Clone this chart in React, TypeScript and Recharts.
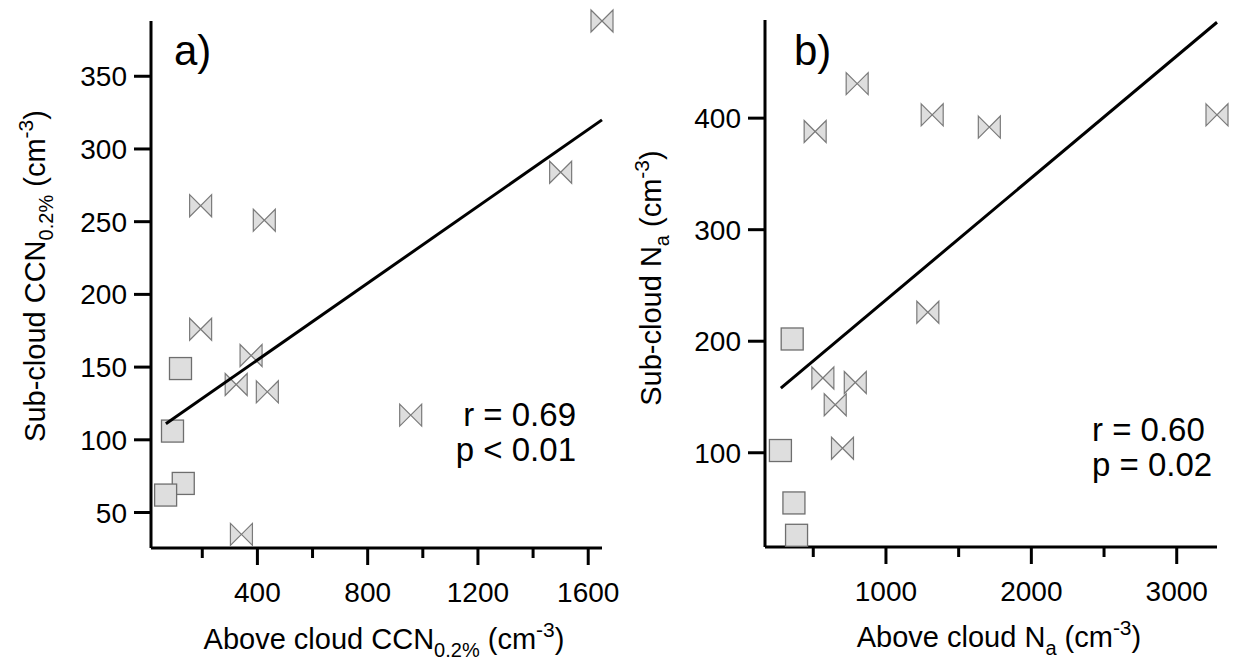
import React from 'react';
import { ScatterChart, Scatter, XAxis, YAxis } from 'recharts';

// ---------- Panel a data ----------
const aBowtieX = [1650, 1500, 194, 425, 194, 377, 323, 436, 956, 342];
const aBowtieY = [388, 284, 261, 251, 176, 158, 138, 133, 117, 35];
const aSquareX = [121, 92, 131, 67];
const aSquareY = [149, 106, 70, 62];
const aFitX = [68, 1650];
const aFitY = [111, 320];
const aXTicks = [200, 400, 600, 800, 1000, 1200, 1400, 1600];
const aXLabeled = [400, 800, 1200, 1600];
const aYTicks = [50, 100, 150, 200, 250, 300, 350];
const aXDomain = [14, 1650];
const aYDomain = [25.6, 388];

// ---------- Panel b data ----------
const bBowtieX = [3277, 802, 513, 1318, 1711, 1288, 566, 789, 651, 701];
const bBowtieY = [403, 431, 388, 403, 392, 226, 167, 163, 143, 104];
const bSquareX = [355, 274, 367, 385];
const bSquareY = [202, 102, 55, 26];
const bFitX = [277, 3277];
const bFitY = [158, 486];
const bXTicks = [500, 1000, 1500, 2000, 2500, 3000];
const bXLabeled = [1000, 2000, 3000];
const bYTicks = [100, 200, 300, 400];
const bXDomain = [168, 3277];
const bYDomain = [15.5, 488];

const zip = (xs: number[], ys: number[]) => xs.map((x, i) => ({ x, y: ys[i] }));

const aBowtie = zip(aBowtieX, aBowtieY);
const aSquare = zip(aSquareX, aSquareY);
const aFit = zip(aFitX, aFitY);
const bBowtie = zip(bBowtieX, bBowtieY);
const bSquare = zip(bSquareX, bSquareY);
const bFit = zip(bFitX, bFitY);

const FONT = '"Liberation Sans", Arial, Helvetica, sans-serif';
const H = 11;

const Bowtie = (props: any) => {
  const { cx, cy } = props;
  if (cx == null || cy == null) return <g />;
  return (
    <path
      d={`M${cx - H},${cy - H} L${cx + H},${cy + H} L${cx + H},${cy - H} L${cx - H},${cy + H} Z`}
      fill="#dedede"
      stroke="#7a7a7a"
      strokeWidth={1.2}
    />
  );
};

const Square = (props: any) => {
  const { cx, cy } = props;
  if (cx == null || cy == null) return <g />;
  return (
    <rect x={cx - H} y={cy - H} width={2 * H} height={2 * H} fill="#dedede" stroke="#6e6e6e" strokeWidth={1.3} />
  );
};

const Empty = () => <g />;

const makeXTick = (labeled: number[]) => (props: any) => {
  const { x, y, payload } = props;
  const major = labeled.includes(payload.value);
  return (
    <g>
      <line x1={x} x2={x} y1={y} y2={y + (major ? 17 : 10)} stroke="#000" strokeWidth={3} />
      {major && (
        <text x={x} y={y + 54} textAnchor="middle" fontSize={28} fontFamily={FONT} fill="#000">
          {payload.value}
        </text>
      )}
    </g>
  );
};

const YTick = (props: any) => {
  const { x, y, payload } = props;
  return (
    <g>
      <line x1={x - 17} x2={x} y1={y} y2={y} stroke="#000" strokeWidth={3} />
      <text x={x - 24} y={y + 10} textAnchor="end" fontSize={28} fontFamily={FONT} fill="#000">
        {payload.value}
      </text>
    </g>
  );
};

const axisLine = { stroke: '#000', strokeWidth: 3 };

const Panel = (p: any) => (
  <ScatterChart width={p.width} height={662} margin={p.margin}>
    <XAxis
      type="number"
      dataKey="x"
      domain={p.xDomain}
      ticks={p.xTicks}
      interval={0}
      tick={makeXTick(p.xLabeled)}
      tickLine={false}
      tickSize={0}
      tickMargin={0}
      height={p.xHeight}
      axisLine={axisLine}
    />
    <YAxis
      type="number"
      dataKey="y"
      domain={p.yDomain}
      ticks={p.yTicks}
      interval={0}
      tick={YTick}
      tickLine={false}
      tickSize={0}
      tickMargin={0}
      width={p.yWidth}
      axisLine={axisLine}
    />
    <Scatter data={p.bowtie} shape={Bowtie} isAnimationActive={false} />
    <Scatter data={p.square} shape={Square} isAnimationActive={false} />
    <Scatter data={p.fit} shape={Empty} line={{ stroke: '#000', strokeWidth: 3 }} isAnimationActive={false} />
  </ScatterChart>
);

const SUB = 20;
const SUP = 21;

export default function App() {
  return (
    <div style={{ position: 'absolute', left: 0, top: 0, width: 1233, height: 662, background: '#fff', overflow: 'hidden' }}>
      <div style={{ position: 'absolute', left: 0, top: 0 }}>
        <Panel
          width={620}
          margin={{ top: 21, right: 18, bottom: 0, left: 0 }}
          xHeight={114}
          yWidth={151}
          xDomain={aXDomain}
          yDomain={aYDomain}
          xTicks={aXTicks}
          xLabeled={aXLabeled}
          yTicks={aYTicks}
          bowtie={aBowtie}
          square={aSquare}
          fit={aFit}
        />
      </div>
      <div style={{ position: 'absolute', left: 620, top: 0 }}>
        <Panel
          width={613}
          margin={{ top: 20, right: 16, bottom: 0, left: 0 }}
          xHeight={115}
          yWidth={145}
          xDomain={bXDomain}
          yDomain={bYDomain}
          xTicks={bXTicks}
          xLabeled={bXLabeled}
          yTicks={bYTicks}
          bowtie={bBowtie}
          square={bSquare}
          fit={bFit}
        />
      </div>
      <svg
        width={1233}
        height={662}
        style={{ position: 'absolute', left: 0, top: 0, pointerEvents: 'none' }}
        fontFamily={FONT}
        fill="#000"
      >
        <text x={174} y={65} fontSize={42}>a)</text>
        <text x={794} y={65} fontSize={42}>b)</text>

        <text x={576} y={426} fontSize={33} textAnchor="end">r = 0.69</text>
        <text x={576} y={461} fontSize={33} textAnchor="end">p &lt; 0.01</text>
        <text x={1092} y={441} fontSize={33}>r = 0.60</text>
        <text x={1092} y={476} fontSize={33}>p = 0.02</text>

        <text x={384} y={649} fontSize={29} textAnchor="middle">
          Above cloud CCN
          <tspan fontSize={SUB} dy={8}>0.2%</tspan>
          <tspan dy={-8}> (cm</tspan>
          <tspan fontSize={SUP} dy={-12}>-3</tspan>
          <tspan dy={12}>)</tspan>
        </text>
        <text x={999} y={647} fontSize={29} textAnchor="middle">
          Above cloud N
          <tspan fontSize={SUB} dy={8}>a</tspan>
          <tspan dy={-8}> (cm</tspan>
          <tspan fontSize={SUP} dy={-12}>-3</tspan>
          <tspan dy={12}>)</tspan>
        </text>

        <text x={45} y={276} fontSize={29} textAnchor="middle" transform="rotate(-90 45 276)">
          Sub-cloud CCN
          <tspan fontSize={SUB} dy={8}>0.2%</tspan>
          <tspan dy={-8}> (cm</tspan>
          <tspan fontSize={SUP} dy={-12}>-3</tspan>
          <tspan dy={12}>)</tspan>
        </text>
        <text x={661} y={278} fontSize={29} textAnchor="middle" transform="rotate(-90 661 278)">
          Sub-cloud N
          <tspan fontSize={SUB} dy={8}>a</tspan>
          <tspan dy={-8}> (cm</tspan>
          <tspan fontSize={SUP} dy={-12}>-3</tspan>
          <tspan dy={12}>)</tspan>
        </text>
      </svg>
    </div>
  );
}
